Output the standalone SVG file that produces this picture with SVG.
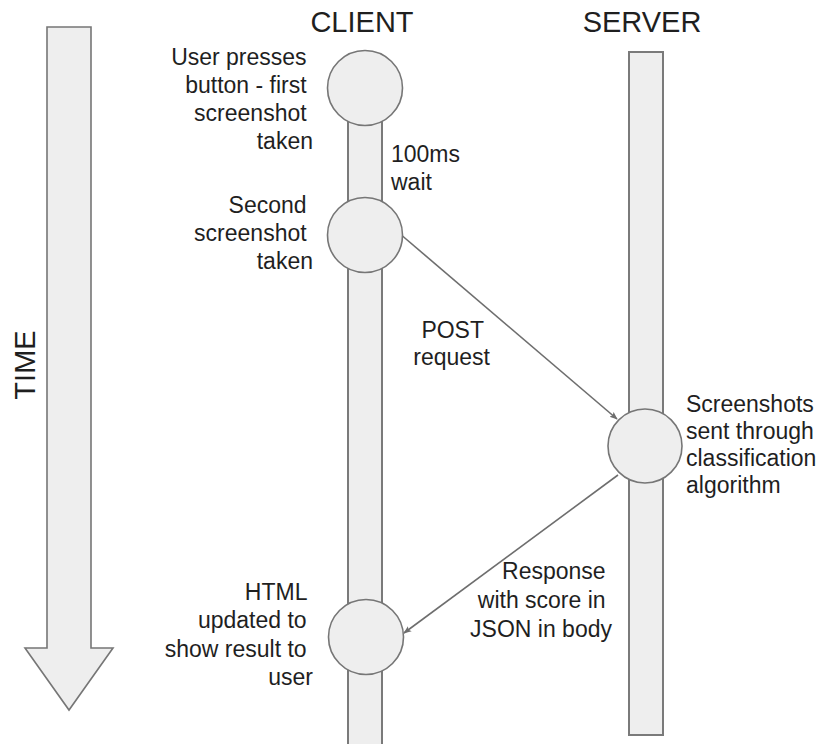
<svg xmlns="http://www.w3.org/2000/svg" width="820" height="744" viewBox="0 0 820 744">
  <style>
    .shape { fill: #eeeeee; stroke: #767676; stroke-width: 1.6; }
    .lane { fill: #eeeeee; stroke: #7a7a7a; stroke-width: 2; }
    .title { font-family: "Liberation Sans", Arial, sans-serif; font-size: 29px; fill: #1f1f1f; }
    .label { font-family: "Liberation Sans", Arial, sans-serif; font-size: 23px; fill: #1f1f1f; }
    .right { text-anchor: end; }
    .conn { stroke: #6e6e6e; stroke-width: 1.6; fill: none; marker-end: url(#head); }
  </style>
  <defs>
    <marker id="head" viewBox="0 0 10 10" refX="9" refY="5" markerWidth="8" markerHeight="8" markerUnits="userSpaceOnUse" orient="auto">
      <path d="M0,1 L10,5 L0,9 L2,5 Z" fill="#6e6e6e"/>
    </marker>
  </defs>

  <rect width="820" height="744" fill="#ffffff"/>

  <!-- time axis -->
  <g id="time-axis">
    <path class="shape" d="M47,27 H91 V648 H113 L69,710 L25,648 H47 Z"/>
    <text class="title" transform="translate(35,365) rotate(-90)" text-anchor="middle">TIME</text>
  </g>

  <!-- lanes -->
  <g id="client-lane">
    <rect class="lane" x="348" y="88" width="34" height="670"/>
    <text class="title" x="362" y="32" text-anchor="middle">CLIENT</text>
  </g>
  <g id="server-lane">
    <rect class="lane" x="629" y="52" width="34" height="683"/>
    <text class="title" x="642" y="32" text-anchor="middle">SERVER</text>
  </g>

  <!-- connectors -->
  <g id="connectors">
    <path class="conn" d="M402.5,236 L617,419"/>
    <path class="conn" d="M618,475 L404,633"/>
  </g>

  <!-- events -->
  <g id="first-screenshot">
    <circle class="shape" cx="365" cy="88" r="37.5"/>
    <text class="label right" x="313">
      <tspan x="313" y="65">User presses</tspan>
      <tspan x="313" y="93">button - first</tspan>
      <tspan x="313" y="121">screenshot</tspan>
      <tspan x="313" y="149">taken</tspan>
    </text>
  </g>

  <g id="wait-label">
    <text class="label" x="391">
      <tspan x="391" y="162">100ms</tspan>
      <tspan x="391" y="190">wait</tspan>
    </text>
  </g>

  <g id="second-screenshot">
    <circle class="shape" cx="365" cy="235" r="37.5"/>
    <text class="label right" x="313">
      <tspan x="313" y="213">Second</tspan>
      <tspan x="313" y="241">screenshot</tspan>
      <tspan x="313" y="269">taken</tspan>
    </text>
  </g>

  <g id="post-label">
    <text class="label right" x="490">
      <tspan x="490" y="338">POST</tspan>
      <tspan x="490" y="365">request</tspan>
    </text>
  </g>

  <g id="classification">
    <circle class="shape" cx="645" cy="446" r="37"/>
    <text class="label" x="686">
      <tspan x="686" y="412">Screenshots</tspan>
      <tspan x="686" y="439">sent through</tspan>
      <tspan x="686" y="466">classification</tspan>
      <tspan x="686" y="493">algorithm</tspan>
    </text>
  </g>

  <g id="response-label">
    <text class="label right" x="612">
      <tspan x="612" y="579">Response</tspan>
      <tspan x="612" y="608">with score in</tspan>
      <tspan x="612" y="637">JSON in body</tspan>
    </text>
  </g>

  <g id="html-update">
    <circle class="shape" cx="366" cy="637" r="37.5"/>
    <text class="label right" x="313">
      <tspan x="313" y="600">HTML</tspan>
      <tspan x="313" y="628">updated to</tspan>
      <tspan x="313" y="657">show result to</tspan>
      <tspan x="313" y="685">user</tspan>
    </text>
  </g>
</svg>
